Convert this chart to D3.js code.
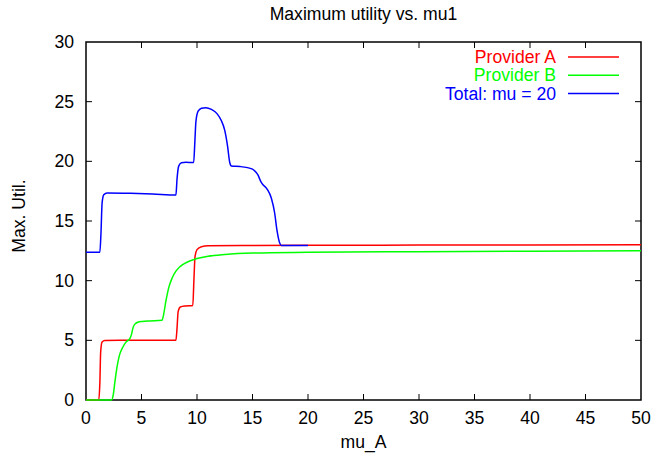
<!DOCTYPE html>
<html><head><meta charset="utf-8">
<script src="https://cdn.jsdelivr.net/npm/d3@7"></script>
<style>body{margin:0;background:#fff}svg{display:block}text{font-family:"Liberation Sans",Arial,Helvetica,sans-serif}</style>
</head><body><svg id="c" width="668" height="455"></svg>
<script>
const xTicks = [0,5,10,15,20,25,30,35,40,45,50];
const yTicks = [0,5,10,15,20,25,30];
const seriesNames = ["Provider A","Provider B","Total: mu = 20"];
const seriesColors = ["#ff0000","#00ff00","#0000ff"];
const providerA = [[0,0],[1.15,0],[1.25,1.5],[1.32,4.0],[1.45,4.85],[1.7,4.98],[3,5.0],[8.1,5.0],[8.2,6.0],[8.3,7.4],[8.5,7.8],[9.0,7.88],[9.62,7.92],[9.72,10.0],[9.82,12.0],[10.0,12.6],[10.4,12.85],[11,12.92],[15,12.95],[20,12.97],[30,12.98],[50,13.0]];
const providerB = [[0,0],[2.3,0],[2.45,0.4],[2.6,1.5],[2.8,2.8],[3.0,3.7],[3.3,4.4],[3.6,4.85],[3.95,5.15],[4.1,5.5],[4.25,6.1],[4.45,6.4],[4.8,6.55],[5.5,6.62],[6.85,6.68],[7.0,7.2],[7.2,8.3],[7.45,9.4],[7.75,10.2],[8.1,10.8],[8.5,11.2],[9.0,11.5],[10,11.85],[11,12.05],[12.5,12.2],[15,12.32],[20,12.38],[30,12.43],[40,12.47],[50,12.5]];
const total = [[0,12.38],[1.25,12.38],[1.35,14],[1.45,16.5],[1.6,17.2],[1.9,17.35],[4,17.32],[6,17.26],[8.1,17.17],[8.2,18.5],[8.35,19.6],[8.6,19.88],[9,19.92],[9.7,19.9],[9.8,21.5],[9.9,23.3],[10.1,24.2],[10.4,24.45],[10.8,24.5],[11.3,24.35],[11.8,24.0],[12.2,23.4],[12.5,22.6],[12.75,21.3],[12.95,19.9],[13.1,19.6],[13.9,19.56],[15.0,19.35],[15.3,19.1],[15.5,18.85],[15.7,18.4],[15.85,18.15],[16.3,17.7],[16.7,16.9],[17.0,15.65],[17.2,14.25],[17.45,13.15],[17.6,12.95],[20,12.95]];
const allSeries = [providerA, providerB, total];

const L=86,R=641,T=42,B=400;
const x=d3.scaleLinear().domain([0,50]).range([L,R]);
const y=d3.scaleLinear().domain([0,30]).range([B,T]);
const svg=d3.select("#c");
const fs=17.6;

// frame
svg.append("rect").attr("x",L).attr("y",T).attr("width",R-L).attr("height",B-T).attr("fill","none").attr("stroke","#000").attr("stroke-width",1.5);

// tick marks
const tl=6;
const g=svg.append("g").attr("stroke","#000").attr("stroke-width",1);
xTicks.forEach(v=>{
  if(v===0||v===50)return;
  g.append("line").attr("x1",x(v)).attr("x2",x(v)).attr("y1",B).attr("y2",B-tl);
  g.append("line").attr("x1",x(v)).attr("x2",x(v)).attr("y1",T).attr("y2",T+tl);
});
yTicks.forEach(v=>{
  if(v===0||v===30)return;
  g.append("line").attr("x1",L).attr("x2",L+tl).attr("y1",y(v)).attr("y2",y(v));
  g.append("line").attr("x1",R).attr("x2",R-tl).attr("y1",y(v)).attr("y2",y(v));
});
xTicks.forEach(v=>{
  svg.append("text").attr("x",x(v)).attr("y",B+24).attr("text-anchor","middle").attr("font-size",fs).text(v);
});
yTicks.forEach(v=>{
  svg.append("text").attr("x",L-12).attr("y",y(v)+6).attr("text-anchor","end").attr("font-size",fs).text(v);
});

// lines
const line=d3.line().x(d=>x(d[0])).y(d=>y(d[1])).curve(d3.curveMonotoneX);
allSeries.forEach((s,i)=>{
  svg.append("path").datum(s).attr("d",line).attr("fill","none").attr("stroke",seriesColors[i]).attr("stroke-width",1.5).attr("stroke-linejoin","round");
});

// legend
seriesNames.forEach((n,i)=>{
  const yy=57+i*18.3;
  svg.append("text").attr("x",556).attr("y",yy+6).attr("text-anchor","end").attr("font-size",fs).attr("fill",seriesColors[i]).text(n);
  svg.append("line").attr("x1",568).attr("x2",619).attr("y1",yy).attr("y2",yy).attr("stroke",seriesColors[i]).attr("stroke-width",1.5);
});

// titles
svg.append("text").attr("x",(L+R)/2).attr("y",20).attr("text-anchor","middle").attr("font-size",fs).text("Maximum utility vs. mu1");
svg.append("text").attr("x",(L+R)/2).attr("y",448).attr("text-anchor","middle").attr("font-size",fs).text("mu_A");
svg.append("text").attr("transform","translate(25,216) rotate(-90)").attr("text-anchor","middle").attr("font-size",fs).text("Max. Util.");
</script></body></html>
